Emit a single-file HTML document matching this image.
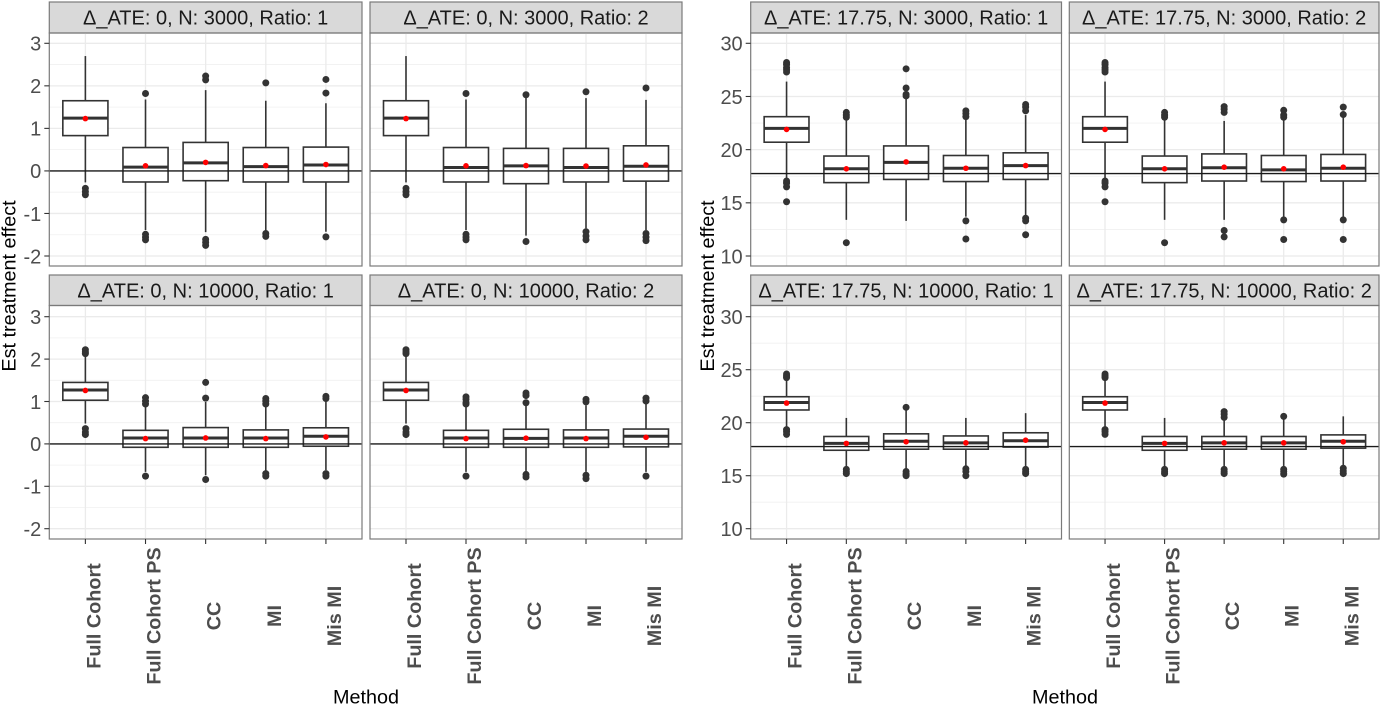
<!DOCTYPE html>
<html lang="en">
<head>
<meta charset="utf-8">
<title>Estimated treatment effect by method</title>
<style>
html,body{margin:0;padding:0;background:#fff;width:1381px;height:707px;overflow:hidden}
svg{display:block;filter:blur(0.3px)}
text{font-family:"Liberation Sans",Arial,sans-serif}
</style>
</head>
<body>
<svg id="chart" xmlns="http://www.w3.org/2000/svg" width="1381" height="707" viewBox="0 0 1381 707"></svg>
<script>
const categories = ["Full Cohort", "Full Cohort PS", "CC", "MI", "Mis MI"];
const panelTitles = [
  "Δ_ATE: 0, N: 3000, Ratio: 1", "Δ_ATE: 0, N: 3000, Ratio: 2",
  "Δ_ATE: 17.75, N: 3000, Ratio: 1", "Δ_ATE: 17.75, N: 3000, Ratio: 2",
  "Δ_ATE: 0, N: 10000, Ratio: 1", "Δ_ATE: 0, N: 10000, Ratio: 2",
  "Δ_ATE: 17.75, N: 10000, Ratio: 1", "Δ_ATE: 17.75, N: 10000, Ratio: 2"
];
const yTicksLow = [-2, -1, 0, 1, 2, 3];
const yTicksHigh = [10, 15, 20, 25, 30];
const referenceValues = [0, 0, 17.75, 17.75, 0, 0, 17.75, 17.75];

const q3Values = [
  [1.65, 0.55, 0.67, 0.55, 0.56],
  [1.65, 0.55, 0.53, 0.53, 0.59],
  [23.1, 19.4, 20.35, 19.45, 19.7],
  [23.1, 19.4, 19.6, 19.45, 19.55],
  [1.45, 0.32, 0.385, 0.33, 0.38],
  [1.45, 0.32, 0.345, 0.33, 0.35],
  [22.45, 18.7, 18.95, 18.75, 19.05],
  [22.45, 18.7, 18.7, 18.7, 18.85]
];
const medianValues = [
  [1.24, 0.09, 0.19, 0.10, 0.14],
  [1.24, 0.08, 0.12, 0.08, 0.11],
  [22.0, 18.2, 18.8, 18.25, 18.5],
  [22.0, 18.2, 18.3, 18.1, 18.25],
  [1.27, 0.14, 0.14, 0.14, 0.18],
  [1.27, 0.14, 0.13, 0.14, 0.18],
  [21.9, 18.05, 18.25, 18.1, 18.3],
  [21.9, 18.05, 18.1, 18.1, 18.25]
];
const q1Values = [
  [0.83, -0.26, -0.23, -0.26, -0.26],
  [0.83, -0.26, -0.30, -0.26, -0.24],
  [20.7, 16.9, 17.2, 17.0, 17.2],
  [20.7, 16.9, 17.05, 17.0, 17.05],
  [1.03, -0.08, -0.08, -0.08, -0.055],
  [1.03, -0.08, -0.08, -0.08, -0.07],
  [21.2, 17.4, 17.5, 17.5, 17.7],
  [21.2, 17.4, 17.5, 17.5, 17.6]
];
const whiskerHighValues = [
  [2.70, 1.68, 1.90, 1.65, 1.59],
  [2.70, 1.68, 1.73, 1.71, 1.67],
  [26.4, 22.8, 24.8, 22.9, 23.25],
  [26.4, 22.8, 22.7, 22.85, 23.05],
  [2.09, 0.89, 0.99, 0.89, 1.0],
  [2.09, 0.89, 0.91, 0.91, 0.97],
  [24.1, 20.45, 21.15, 20.45, 20.9],
  [24.1, 20.45, 20.25, 20.4, 20.6]
];
const whiskerLowValues = [
  [-0.27, -1.39, -1.44, -1.40, -1.43],
  [-0.27, -1.39, -1.52, -1.35, -1.39],
  [17.3, 13.4, 13.3, 13.7, 13.75],
  [17.3, 13.4, 13.4, 13.55, 13.7],
  [0.48, -0.66, -0.74, -0.64, -0.62],
  [0.48, -0.66, -0.66, -0.66, -0.66],
  [19.6, 15.85, 15.6, 15.85, 15.85],
  [19.6, 15.85, 15.8, 15.8, 15.85]
];
const meanValues = [
  [1.23, 0.12, 0.20, 0.125, 0.15],
  [1.23, 0.12, 0.125, 0.115, 0.14],
  [21.9, 18.2, 18.85, 18.25, 18.5],
  [21.9, 18.2, 18.35, 18.2, 18.35],
  [1.26, 0.125, 0.14, 0.125, 0.165],
  [1.26, 0.125, 0.135, 0.125, 0.155],
  [21.85, 18.05, 18.2, 18.1, 18.35],
  [21.85, 18.05, 18.1, 18.1, 18.2]
];
const outlierValues = [
  [[-0.41, -0.49, -0.56], [1.82, -1.49, -1.56, -1.62], [2.23, 2.14, -1.61, -1.68, -1.75], [2.07, -1.47, -1.54], [2.15, 1.83, -1.55]],
  [[-0.41, -0.49, -0.56], [1.82, -1.49, -1.56, -1.62], [1.79, -1.66], [1.86, -1.43, -1.53, -1.62], [1.95, -1.47, -1.56, -1.64]],
  [[28.2, 28.0, 27.7, 27.5, 27.3, 17.05, 16.85, 16.5, 15.1], [23.5, 23.25, 23.05, 11.25], [27.6, 25.8, 25.2, 25.05], [23.65, 23.4, 23.1, 13.3, 11.6], [24.25, 24.0, 23.65, 13.55, 13.3, 12.0]],
  [[28.2, 28.0, 27.7, 27.5, 27.3, 17.05, 16.85, 16.5, 15.1], [23.5, 23.25, 23.05, 11.25], [24.05, 23.8, 23.5, 12.4, 11.8], [23.7, 23.25, 23.05, 13.4, 11.55], [24.0, 23.3, 13.4, 11.55]],
  [[2.22, 2.17, 2.13, 0.36, 0.28, 0.22], [1.09, 1.01, 0.94, -0.76], [1.45, 1.08, -0.84], [1.07, 1.01, 0.94, -0.70, -0.76], [1.12, 1.07, -0.70, -0.76]],
  [[2.22, 2.17, 2.13, 0.36, 0.28, 0.22], [1.11, 1.05, 0.97, 0.94, -0.76], [1.2, 1.14, 0.97, -0.72, -0.78], [1.05, 0.99, -0.74, -0.82], [1.08, 1.01, -0.76]],
  [[24.6, 24.4, 24.25, 19.35, 19.15, 18.9], [15.6, 15.4, 15.2], [21.45, 15.4, 15.15, 15.0], [15.65, 15.4, 15.0], [15.6, 15.4, 15.2]],
  [[24.6, 24.4, 24.25, 19.35, 19.15, 18.9], [15.6, 15.4, 15.2], [21.05, 20.8, 20.5, 15.6, 15.4, 15.2], [20.6, 15.6, 15.4, 15.15], [15.7, 15.45, 15.2]]
];

const svg = document.getElementById("chart");
const NS = "http://www.w3.org/2000/svg";

function mk(parent, tag, attrs, txt) {
  const el = document.createElementNS(NS, tag);
  for (const k in attrs) el.setAttribute(k, attrs[k]);
  if (txt !== undefined) el.textContent = txt;
  parent.appendChild(el);
  return el;
}
function panelColumn(p) { return p % 4; }
function panelRow(p) { return p < 4 ? 0 : 1; }
function panelLeft(p) { return [49.3, 370, 750.7, 1069.3][panelColumn(p)]; }
function panelRight(p) { return [362, 682, 1061.5, 1379][panelColumn(p)]; }
function panelTop(p) { return panelRow(p) === 0 ? 33 : 305.5; }
function panelBottom(p) { return panelRow(p) === 0 ? 266 : 539; }
function stripTop(p) { return panelRow(p) === 0 ? 2 : 275; }
function yTicksFor(p) { return panelColumn(p) < 2 ? yTicksLow : yTicksHigh; }
function xScale(p, i) {
  const step = (panelRight(p) - panelLeft(p)) / 5.2;
  return panelLeft(p) + (0.6 + i) * step;
}
function boxWidth(p) { return 0.75 * (panelRight(p) - panelLeft(p)) / 5.2; }
function yScale(p, v) {
  const t = yTicksFor(p);
  const lo = t[0], hi = t[t.length - 1];
  const pxTop = panelRow(p) === 0 ? 43.3 : 316.7;
  const pxBot = panelRow(p) === 0 ? 256 : 528.7;
  return pxTop + (hi - v) / (hi - lo) * (pxBot - pxTop);
}

const TICK = "#4d4d4d", BOX = "#333333", GRID = "#ebebeb", BORDER = "#7a7a7a";

panelTitles.forEach(function (title, p) {
  const g = mk(svg, "g", {});
  
  
  const L = panelLeft(p), R = panelRight(p), T = panelTop(p), B = panelBottom(p), ST = stripTop(p);

  const strip = mk(g, "rect", { x: L, y: ST, width: R - L, height: T - ST, fill: "#d9d9d9", stroke: BORDER, "stroke-width": 1.2 });
  
  
  const stripLabel = mk(g, "text", { x: (L + R) / 2, y: ST + 22.4, "text-anchor": "middle", "font-size": 20, fill: "#1a1a1a" }, title);
  
  

  const ticks = yTicksFor(p);
  ticks.forEach(function (v, i) {
    const y = yScale(p, v);
    const major = mk(g, "line", { x1: L, x2: R, y1: y, y2: y, stroke: GRID, "stroke-width": 1.3 });
    
    
    if (i < ticks.length - 1) {
      const ym = yScale(p, (v + ticks[i + 1]) / 2);
      const minor = mk(g, "line", { x1: L, x2: R, y1: ym, y2: ym, stroke: "#f0f0f0", "stroke-width": 0.8 });
      
      
    }
  });
  categories.forEach(function (c, i) {
    const x = xScale(p, i);
    const gx = mk(g, "line", { x1: x, x2: x, y1: T, y2: B, stroke: GRID, "stroke-width": 1.3 });
    
    
  });

  categories.forEach(function (c, i) {
    const x = xScale(p, i), w = boxWidth(p);
    const whisker = mk(g, "line", { x1: x, x2: x, y1: yScale(p, whiskerHighValues[p][i]), y2: yScale(p, whiskerLowValues[p][i]), stroke: BOX, "stroke-width": 1.6 });
    
    
    const yq3 = yScale(p, q3Values[p][i]), yq1 = yScale(p, q1Values[p][i]);
    const box = mk(g, "rect", { x: x - w / 2, y: yq3, width: w, height: yq1 - yq3, fill: "#fff", stroke: BOX, "stroke-width": 1.6 });
    
    
    const med = mk(g, "line", { x1: x - w / 2, x2: x + w / 2, y1: yScale(p, medianValues[p][i]), y2: yScale(p, medianValues[p][i]), stroke: BOX, "stroke-width": 3 });
    
    
    outlierValues[p][i].forEach(function (v) {
      const o = mk(g, "circle", { cx: x, cy: yScale(p, v), r: 3.5, fill: BOX });
      
      
    });
  });

  const ry = yScale(p, referenceValues[p]);
  const ref = mk(g, "line", { x1: L, x2: R, y1: ry, y2: ry, stroke: "#1a1a1a", "stroke-width": 1.4 });
  
  

  categories.forEach(function (c, i) {
    const m = mk(g, "circle", { cx: xScale(p, i), cy: yScale(p, meanValues[p][i]), r: 2.8, fill: "#ff0000" });
    
    
  });

  const frame = mk(g, "rect", { x: L, y: T, width: R - L, height: B - T, fill: "none", stroke: BORDER, "stroke-width": 1.2 });
  
  

  if (panelColumn(p) === 0 || panelColumn(p) === 2) {
    ticks.forEach(function (v) {
      const y = yScale(p, v);
      const tk = mk(g, "line", { x1: L - 5, x2: L, y1: y, y2: y, stroke: "#333", "stroke-width": 1.1 });
      
      
      const lb = mk(g, "text", { x: L - 8, y: y + 7.3, "text-anchor": "end", "font-size": 20, fill: TICK }, String(v));
      
      
    });
  }
  if (panelRow(p) === 1) {
    categories.forEach(function (c, i) {
      const x = xScale(p, i);
      const tk = mk(g, "line", { x1: x, x2: x, y1: B, y2: B + 5, stroke: "#333", "stroke-width": 1.1 });
      
      
      const lb = mk(g, "text", { transform: "translate(" + (x + 15) + ",616) rotate(-90)", "text-anchor": "middle", "font-size": 19.8, "font-weight": "bold", fill: TICK }, c);
      
      
    });
  }
});

const yTitleLeft = mk(svg, "text", { transform: "translate(15.5,286) rotate(-90)", "text-anchor": "middle", "font-size": 19.8, fill: "#000" }, "Est treatment effect");


const yTitleRight = mk(svg, "text", { transform: "translate(714,286) rotate(-90)", "text-anchor": "middle", "font-size": 19.8, fill: "#000" }, "Est treatment effect");


const xTitleLeft = mk(svg, "text", { x: 366, y: 703.5, "text-anchor": "middle", "font-size": 19.8, fill: "#000" }, "Method");


const xTitleRight = mk(svg, "text", { x: 1065, y: 703.5, "text-anchor": "middle", "font-size": 19.8, fill: "#000" }, "Method");


</script>
</body>
</html>
